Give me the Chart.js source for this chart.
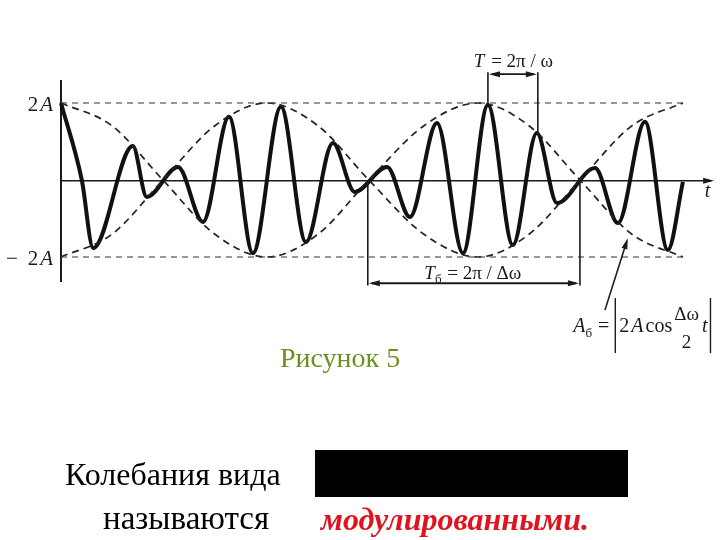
<!DOCTYPE html>
<html lang="ru">
<head>
<meta charset="UTF-8">
<title>Рисунок 5</title>
<script src="https://cdn.jsdelivr.net/npm/chart.js"></script>
<style>
    body { margin: 0; background: #fff; }
    .page { position: relative; width: 720px; height: 540px; overflow: hidden; font-family: "Liberation Serif", "DejaVu Serif", serif; }
    canvas { position: absolute; left: 0; top: 0; }
    .txt { position: absolute; line-height: 1; white-space: nowrap; }
    .caption { left: 280px; top: 344px; font-size: 28px; color: #6e9020; }
    .line1 { left: 65px; top: 458px; font-size: 32px; color: #000; }
    .line2 { left: 103px; top: 502px; font-size: 33px; color: #000; }
    .hidden-formula { position: absolute; left: 315px; top: 450px; width: 313px; height: 47px; background: #000; }
    .term { left: 321px; top: 503px; font-size: 32px; font-weight: bold; font-style: italic; color: #e0141e; }
</style>
</head>
<body>
<div class="page">
    <canvas id="beats" width="720" height="540"></canvas>
    <div class="txt caption">Рисунок 5</div>
    <div class="txt line1">Колебания вида</div>
    <div class="hidden-formula"></div>
    <div class="txt line2">называются</div>
    <div class="txt term">модулированными.</div>
</div>
<script>
// time in carrier periods T, displacement in units of A
const carrierT = [0, 0.40, 0.62, 1.38, 1.65, 2.25, 2.73, 3.23, 3.69, 4.23, 4.71, 5.23, 5.65,
                  6.27, 6.71, 7.23, 7.73, 8.21, 8.69, 9.15, 9.54, 10.27, 10.71, 11.23, 11.67, 11.96];
const carrierY = [2.0, 0, -1.77, 0.88, -0.44, 0.34, -1.09, 1.64, -1.90, 1.90, -1.61, 0.96, -0.31,
                  0.34, -0.96, 1.48, -1.90, 1.95, -1.69, 1.22, -0.60, 0.31, -1.12, 1.51, -1.82, -0.05];

// envelope +/- 2A cos(dw t / 2)
const envT     = [0, 0.98, 1.96, 2.96, 3.96, 4.94, 5.92, 6.98, 8.02, 9.0, 9.98, 10.98, 11.96];
const envUpper = [2, 1.41, 0, -1.41, -2, -1.41, 0, 1.41, 2, 1.41, 0, -1.41, -2];
const envLower = [-2, -1.41, 0, 1.41, 2, 1.41, 0, -1.41, -2, -1.41, 0, 1.41, 2];

// dashed levels 2A and -2A
const levelT = [0, 12.05];
const levelTop = [2, 2];
const levelBottom = [-2, -2];

// annotation marks (t, y)
const periodT = [8.21, 9.17];      // T = 2pi/w
const periodTop = [1.95, 1.22];
const beatT = [5.9, 9.98];         // T_b = 2pi/dw
const pointerFrom = [10.46, -3.38];
const pointerTo = [10.9, -1.51];

function toPoints(xs, ys) {
    return xs.map((x, i) => ({ x: x, y: ys[i] }));
}

const FONT = '"Liberation Serif", serif';

function arrowHead(ctx, x, y, ang) {
    const len = 11, half = 3;
    ctx.beginPath();
    ctx.moveTo(x, y);
    ctx.lineTo(x - len * Math.cos(ang) + half * Math.sin(ang), y - len * Math.sin(ang) - half * Math.cos(ang));
    ctx.lineTo(x - len * Math.cos(ang) - half * Math.sin(ang), y - len * Math.sin(ang) + half * Math.cos(ang));
    ctx.closePath();
    ctx.fill();
}

function line(ctx, x1, y1, x2, y2) {
    ctx.beginPath();
    ctx.moveTo(x1, y1);
    ctx.lineTo(x2, y2);
    ctx.stroke();
}

// draws text runs left to right, each run {t, f, dy}
function runs(ctx, x, y, parts, align) {
    let w = 0;
    parts.forEach(p => { ctx.font = p.f; w += ctx.measureText(p.t).width + (p.gap || 0); });
    let cx = align === 'right' ? x - w : align === 'center' ? x - w / 2 : x;
    parts.forEach(p => {
        ctx.font = p.f;
        ctx.fillText(p.t, cx, y + (p.dy || 0));
        cx += ctx.measureText(p.t).width + (p.gap || 0);
    });
    return cx;
}

const annotate = {
    id: 'annotate',
    beforeDatasetsDraw(chart) {
        const ctx = chart.ctx, xs = chart.scales.x, ys = chart.scales.y;
        const X = v => xs.getPixelForValue(v), Y = v => ys.getPixelForValue(v);
        ctx.save();
        ctx.strokeStyle = '#1a1a1a';
        ctx.fillStyle = '#1a1a1a';
        // vertical axis
        ctx.lineWidth = 2;
        line(ctx, X(0), Y(2.6), X(0), Y(-2.65));
        // t axis with arrow
        ctx.lineWidth = 1.5;
        line(ctx, X(0), Y(-0.02), X(12.5), Y(-0.02));
        arrowHead(ctx, X(12.56), Y(-0.02), 0);
        ctx.restore();
    },
    afterDatasetsDraw(chart) {
        const ctx = chart.ctx, xs = chart.scales.x, ys = chart.scales.y;
        const X = v => xs.getPixelForValue(v), Y = v => ys.getPixelForValue(v);
        ctx.save();
        ctx.strokeStyle = '#1a1a1a';
        ctx.fillStyle = '#1a1a1a';
        ctx.textBaseline = 'alphabetic';

        // y labels
        runs(ctx, X(-0.15), Y(2) + 8, [
            { t: '2', f: '21px ' + FONT, gap: 2 },
            { t: 'A', f: 'italic 21px ' + FONT }
        ], 'right');
        runs(ctx, X(-0.15), Y(-2) + 8, [
            { t: '\u2212', f: '21px ' + FONT, gap: 10 },
            { t: '2', f: '21px ' + FONT, gap: 2 },
            { t: 'A', f: 'italic 21px ' + FONT }
        ], 'right');

        // t label
        ctx.font = 'italic 20px ' + FONT;
        ctx.fillText('t', X(12.38), Y(0) + 17);

        // carrier period T
        ctx.lineWidth = 1.6;
        const topY = Y(2.8), arrY = Y(2.75);
        line(ctx, X(periodT[0]), topY, X(periodT[0]), Y(periodTop[0]));
        line(ctx, X(periodT[1]), topY, X(periodT[1]), Y(periodTop[1]));
        line(ctx, X(periodT[0]) + 4, arrY, X(periodT[1]) - 4, arrY);
        arrowHead(ctx, X(periodT[0]) + 1, arrY, Math.PI);
        arrowHead(ctx, X(periodT[1]) - 1, arrY, 0);
        runs(ctx, X(8.7), Y(2.93), [
            { t: 'T', f: 'italic 19px ' + FONT, gap: 2 },
            { t: ' = 2\u03c0 / \u03c9', f: '19px ' + FONT }
        ], 'center');

        // beat period T_b
        const lowY = Y(-2.74), bArrY = Y(-2.68);
        line(ctx, X(beatT[0]), Y(0), X(beatT[0]), lowY);
        line(ctx, X(beatT[1]), Y(0), X(beatT[1]), lowY);
        ctx.lineWidth = 2;
        line(ctx, X(beatT[0]) + 4, bArrY, X(beatT[1]) - 4, bArrY);
        arrowHead(ctx, X(beatT[0]) + 1, bArrY, Math.PI);
        arrowHead(ctx, X(beatT[1]) - 1, bArrY, 0);
        runs(ctx, X(7.92), Y(-2.56), [
            { t: 'T', f: 'italic 19px ' + FONT },
            { t: '\u0431', f: '13px ' + FONT, dy: 4, gap: 1 },
            { t: ' = 2\u03c0 / \u0394\u03c9', f: '19px ' + FONT }
        ], 'center');

        // pointer to envelope
        ctx.lineWidth = 1.6;
        const fx = X(pointerFrom[0]), fy = Y(pointerFrom[1]);
        const tx = X(pointerTo[0]), ty = Y(pointerTo[1]);
        const ang = Math.atan2(ty - fy, tx - fx);
        line(ctx, fx, fy, tx - 6 * Math.cos(ang), ty - 6 * Math.sin(ang));
        arrowHead(ctx, tx, ty, ang);

        // A_b = |2A cos(dw/2) t|
        const bx = X(9.85), by = Y(-3.95);
        let cx = runs(ctx, bx, by, [
            { t: 'A', f: 'italic 20px ' + FONT },
            { t: '\u0431', f: '13px ' + FONT, dy: 5, gap: 1 },
            { t: ' = ', f: '20px ' + FONT }
        ]);
        ctx.lineWidth = 1.4;
        line(ctx, cx + 1, by - 34, cx + 1, by + 21);
        cx = runs(ctx, cx + 5, by, [
            { t: '2', f: '20px ' + FONT, gap: 2 },
            { t: 'A', f: 'italic 20px ' + FONT, gap: 2 },
            { t: 'cos', f: '20px ' + FONT, gap: 2 }
        ]);
        ctx.font = '19px ' + FONT;
        ctx.textAlign = 'center';
        const fw = ctx.measureText('\u0394\u03c9').width;
        ctx.fillText('\u0394\u03c9', cx + fw / 2, by - 12);
        ctx.fillText('2', cx + fw / 2, by + 16);
        ctx.textAlign = 'left';
        cx += fw + 3;
        ctx.font = 'italic 20px ' + FONT;
        ctx.fillText('t', cx, by);
        cx += ctx.measureText('t').width + 3;
        line(ctx, cx, by - 34, cx, by + 21);

        ctx.restore();
    }
};

const dashedStyle = {
    showLine: true, pointRadius: 0, borderColor: '#222', borderWidth: 1.7,
    borderDash: [7, 5], cubicInterpolationMode: 'monotone', clip: false
};

new Chart(document.getElementById('beats'), {
    type: 'scatter',
    data: {
        datasets: [
            Object.assign({ data: toPoints(levelT, levelTop) }, dashedStyle, { borderWidth: 1.2, borderDash: [6, 5], borderColor: '#333' }),
            Object.assign({ data: toPoints(levelT, levelBottom) }, dashedStyle, { borderWidth: 1.2, borderDash: [6, 5], borderColor: '#333' }),
            Object.assign({ data: toPoints(envT, envUpper) }, dashedStyle),
            Object.assign({ data: toPoints(envT, envLower) }, dashedStyle),
            {
                data: toPoints(carrierT, carrierY),
                showLine: true, pointRadius: 0, borderColor: '#111', borderWidth: 4,
                cubicInterpolationMode: 'monotone', clip: false
            }
        ]
    },
    options: {
        responsive: false,
        animation: false,
        events: [],
        layout: { padding: { left: 61, right: 3.8, top: 45.25, bottom: 186.75 } },
        scales: {
            x: { type: 'linear', min: 0, max: 12.6, display: false },
            y: { type: 'linear', min: -4.5, max: 3.5, display: false }
        },
        plugins: { legend: { display: false }, tooltip: { enabled: false } }
    },
    plugins: [annotate]
});
</script>
</body>
</html>
